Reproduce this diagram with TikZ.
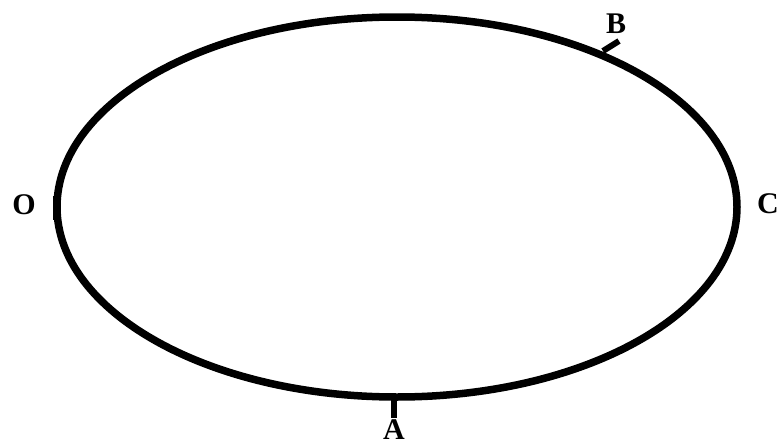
\documentclass[tikz,border=0pt]{standalone}
\usepackage{fontspec}
\setmainfont{Liberation Serif}
\begin{document}
\begin{tikzpicture}[x=1pt,y=-1pt,
  curve/.style={line width=7.5pt},
  tick/.style={line width=6pt},
  lab/.style={font=\fontsize{30}{30}\selectfont\bfseries, inner sep=0pt}]
\useasboundingbox (0,0) rectangle (782,447);
\draw[curve] (397,207) ellipse [x radius=340, y radius=190];
\coordinate (oa) at (57,196);
\coordinate (ob) at (57,220);
\coordinate (ba) at (603,51);
\coordinate (bb) at (619,41);
\coordinate (aa) at (394,398);
\coordinate (ab) at (394,418);
\draw[curve] (oa) -- (ob);
\draw[tick] (ba) -- (bb);
\draw[tick] (aa) -- (ab);
\node[lab] (O) at (24,205) {O};
\node[lab] (C) at (768,204) {C};
\node[lab] (B) at (616,24) {B};
\node[lab] (A) at (394,430) {A};
\end{tikzpicture}
\end{document}
